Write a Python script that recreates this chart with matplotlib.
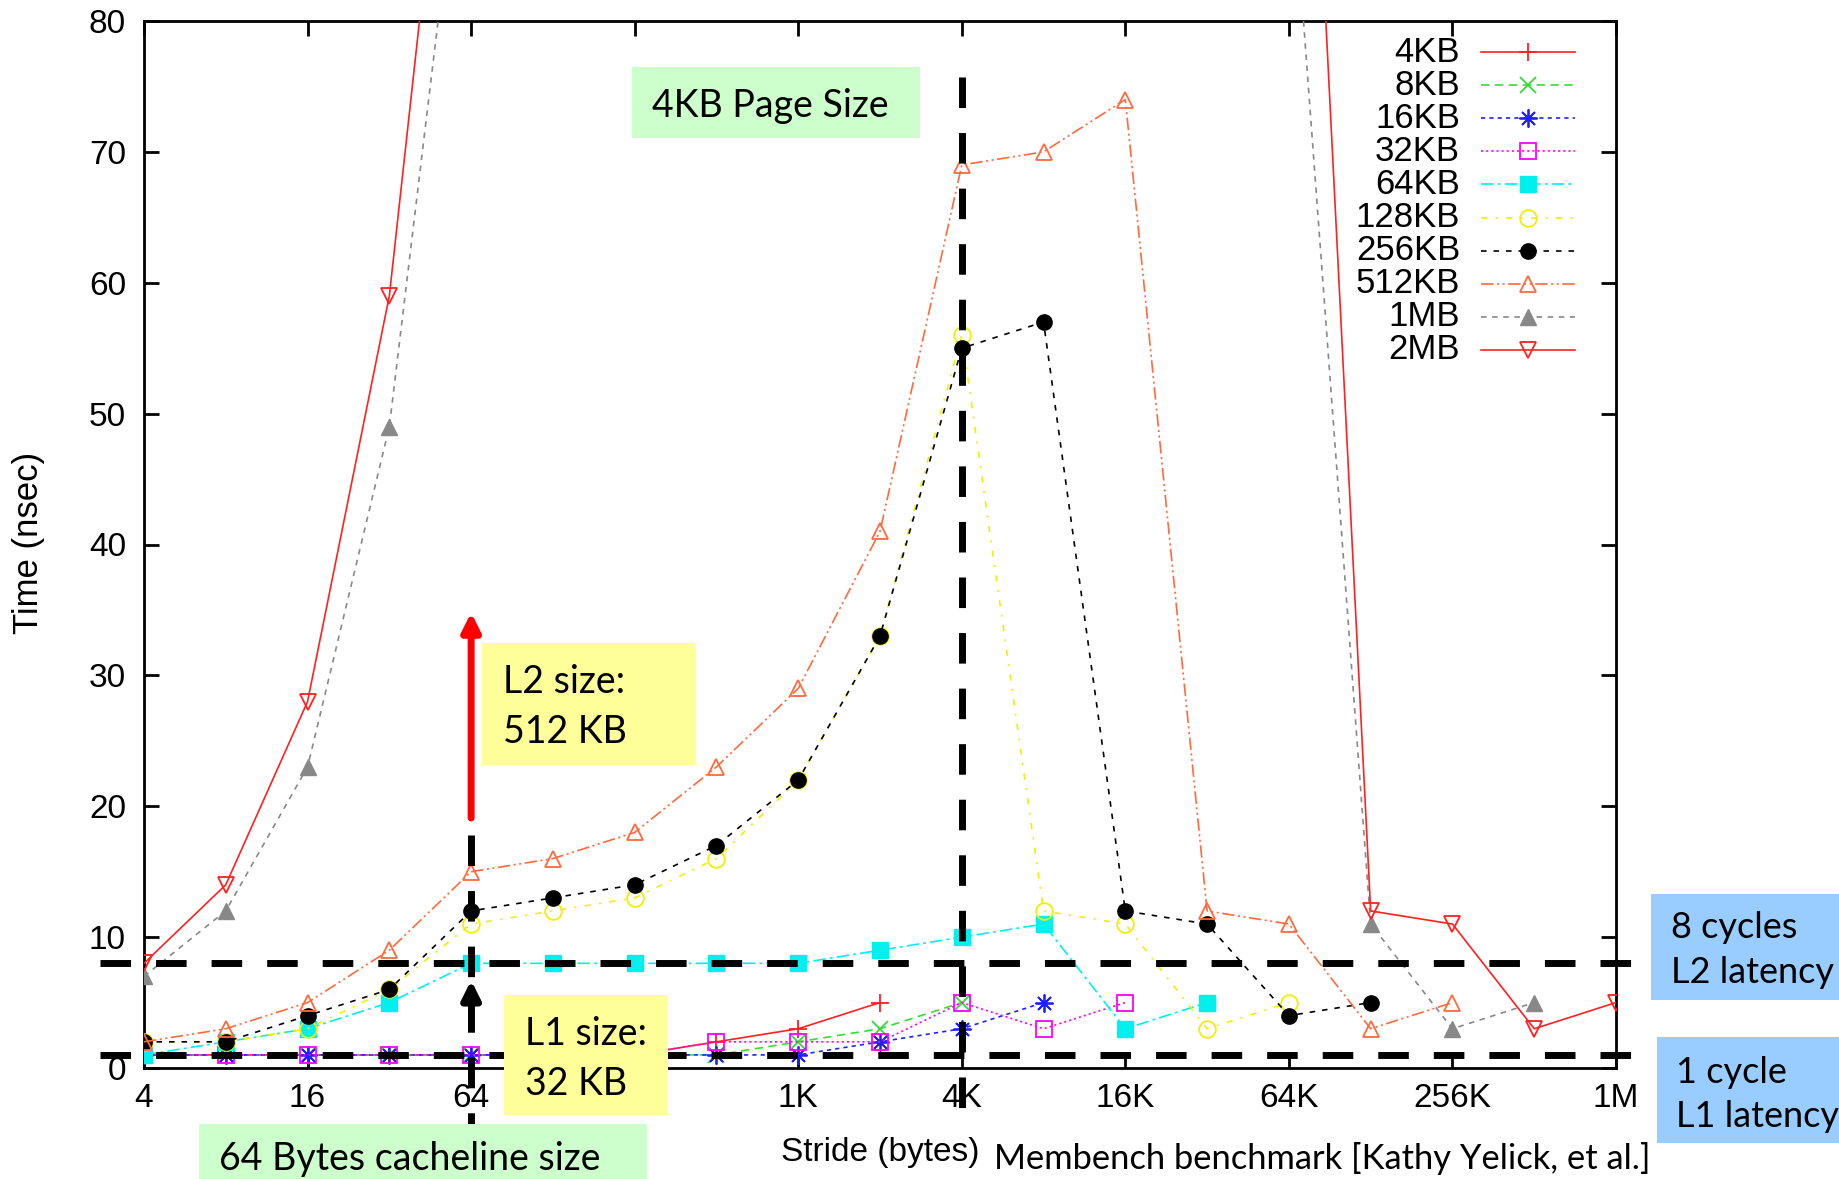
import matplotlib
matplotlib.use('Agg')
import matplotlib.pyplot as plt
from matplotlib.patches import Rectangle

plt.rcParams['lines.scale_dashes'] = False

W, H = 1839, 1179
DPI = 100

# ---------------- data ----------------
strides = [4, 8, 16, 32, 64, 128, 256, 512, 1024, 2048, 4096, 8192,
           16384, 32768, 65536, 131072, 262144, 524288, 1048576]
xtick_vals = [4, 16, 64, 256, 1024, 4096, 16384, 65536, 262144, 1048576]
# the "256" label is hidden behind the "L1 size" box in the original
xtick_labels = ['4', '16', '64', '', '1K', '4K', '16K', '64K', '256K', '1M']
ytick_vals = [0, 10, 20, 30, 40, 50, 60, 70, 80]

series_labels = ['4KB', '8KB', '16KB', '32KB', '64KB', '128KB', '256KB',
                 '512KB', '1MB', '2MB']
t_4KB = [1, 1, 1, 1, 1, 1, 1, 2, 3, 5]
t_8KB = [1, 1, 1, 1, 1, 1, 1, 1, 2, 3, 5]
t_16KB = [1, 1, 1, 1, 1, 1, 1, 1, 1, 2, 3, 5]
t_32KB = [1, 1, 1, 1, 1, 1, 1, 2, 2, 2, 5, 3, 5]
t_64KB = [1, 2, 3, 5, 8, 8, 8, 8, 8, 9, 10, 11, 3, 5]
t_128KB = [2, 2, 3, 6, 11, 12, 13, 16, 22, 33, 56, 12, 11, 3, 5]
t_256KB = [2, 2, 4, 6, 12, 13, 14, 17, 22, 33, 55, 57, 12, 11, 4, 5]
t_512KB = [2, 3, 5, 9, 15, 16, 18, 23, 29, 41, 69, 70, 74, 12, 11, 3, 5]
t_1MB = [7, 12, 23, 49, 101, 102, 104, 106, 108, 110, 108, 105, 102, 99, 95,
         11, 3, 5]
t_2MB = [8, 14, 28, 59, 116, 120, 124, 128, 130, 132, 134, 135, 136, 136, 136,
         12, 11, 3, 5]
series_values = [t_4KB, t_8KB, t_16KB, t_32KB, t_64KB, t_128KB, t_256KB,
                 t_512KB, t_1MB, t_2MB]

# ---------------- styles ----------------
styles = [
    dict(color='#ff2020', ls='-', marker='+', ms=13, mew=1.3, mfc='none'),
    dict(color='#33dd33', ls=(0, (6, 4)), marker='x', ms=11, mew=1.3, mfc='none'),
    dict(color='#2020ff', ls=(0, (3, 3)), marker=(8, 2, 0), ms=13, mew=1.3, mfc='none'),
    dict(color='#ff00ff', ls=(0, (1.5, 2.2)), marker='s', ms=11, mew=1.3, mfc='none'),
    dict(color='#00f0f0', ls=(0, (9, 3, 2, 3)), marker='s', ms=11, mew=1.0),
    dict(color='#f0f000', ls=(0, (4.5, 6, 1.5, 6)), marker='o', ms=12, mew=1.3, mfc='none'),
    dict(color='#000000', ls=(0, (4, 5)), marker='o', ms=11, mew=1.0),
    dict(color='#ff6a3d', ls=(0, (9, 2.5, 1.5, 2.5, 1.5, 2.5)), marker='^', ms=11, mew=1.3, mfc='none'),
    dict(color='#888888', ls=(0, (4, 4)), marker='^', ms=11, mew=1.0),
    dict(color='#ff2020', ls='-', marker='v', ms=11, mew=1.3, mfc='none'),
]

fig = plt.figure(figsize=(W / DPI, H / DPI), dpi=DPI)
fig.patch.set_facecolor('white')

def fx(px):
    return px / W

def fy(py):
    return 1 - py / H

ax_left, ax_right, ax_top, ax_bot = 144, 1616, 21, 1068
ax = fig.add_axes([fx(ax_left), fy(ax_bot), fx(ax_right - ax_left), (ax_bot - ax_top) / H])
ax.set_xscale('log', base=2)
ax.set_xlim(4, 1048576)
ax.set_ylim(0, 80)

sans = ['Liberation Sans', 'DejaVu Sans']

for vals, st in zip(series_values, styles):
    ax.plot(strides[:len(vals)], vals, lw=1.2, zorder=3, **st)

ax.set_xticks(xtick_vals)
ax.set_xticklabels(xtick_labels)
ax.set_yticks(ytick_vals)
ax.set_yticklabels([str(v) for v in ytick_vals])
ax.minorticks_off()
ax.tick_params(axis='both', which='major', direction='in', length=11, width=2,
               top=True, right=True, labelsize=24)
ax.tick_params(axis='x', pad=11)
ax.tick_params(axis='y', pad=13)
for lab in ax.get_xticklabels() + ax.get_yticklabels():
    lab.set_fontfamily(sans)
for sp in ax.spines.values():
    sp.set_linewidth(2)

# ---------------- legend (manual, right aligned labels) ----------------
def axfx(px):
    return (px - ax_left) / (ax_right - ax_left)

def axfy(py):
    return (ax_bot - py) / (ax_bot - ax_top)

for i, (lab, st) in enumerate(zip(series_labels, styles)):
    yrow = 52 + i * 33.1
    ay = axfy(yrow)
    ax.text(axfx(1460), ay, lab, transform=ax.transAxes, ha='right', va='center',
            fontsize=25, fontfamily=sans)
    ax.plot([axfx(1481), axfx(1528), axfx(1575)], [ay, ay, ay], transform=ax.transAxes,
            clip_on=False, markevery=[1], lw=1.2, zorder=3, **st)

# ---------------- reference lines ----------------
thick = dict(color='black', lw=5, ls=(0, (22, 18)))
bt = ax.get_yaxis_transform()  # x in axes, y in data
for yv in (8, 1):
    ax.plot([-0.030, 1.0197], [yv, yv], transform=bt, clip_on=False, zorder=6, **thick)

ax.plot([4096, 4096], [75.7, -4.0], clip_on=False, zorder=6, **thick)
ax.plot([64, 64], [17.8, -4.6], clip_on=False, zorder=6, **thick)

ax.annotate('', xy=(64, 34.8), xytext=(64, 19.1),
            arrowprops=dict(arrowstyle='-|>', color='red', lw=5,
                            mutation_scale=27, shrinkA=0, shrinkB=0),
            zorder=7)
ax.annotate('', xy=(64, 6.7), xytext=(64, 5.0),
            arrowprops=dict(arrowstyle='-|>', color='black', lw=5,
                            mutation_scale=27, shrinkA=0, shrinkB=0),
            zorder=7)

# ---------------- annotation boxes ----------------
box_font = ['Lato', 'DejaVu Sans']

def box(x0, y0, x1, y1, color):
    fig.add_artist(Rectangle((fx(x0), fy(y1)), fx(x1 - x0), (y1 - y0) / H,
                             transform=fig.transFigure, facecolor=color,
                             edgecolor='none', zorder=10))

def btext(x, y, s, size=27):
    fig.text(fx(x), fy(y), s, ha='left', va='baseline', fontsize=size,
             fontfamily=box_font, zorder=11)

box(632, 67, 920, 138, '#ccffcc')
btext(652, 117, '4KB Page Size')

box(482, 643, 696, 765, '#ffff99')
btext(503, 693, 'L2 size:')
btext(503, 743, '512 KB')

box(504, 995, 668, 1115, '#ffff99')
btext(525, 1045, 'L1 size:')
btext(525, 1095, '32 KB')

box(199, 1124, 647, 1185, '#ccffcc')
btext(219, 1170, '64 Bytes cacheline size')

box(1651, 894, 1845, 1000, '#99ccff')
btext(1671, 938, '8 cycles', size=26)
btext(1671, 983, 'L2 latency', size=26)

box(1657, 1037, 1845, 1143, '#99ccff')
btext(1676, 1083, '1 cycle', size=26)
btext(1676, 1127, 'L1 latency', size=26)

fig.text(fx(994), fy(1169), 'Membench benchmark [Kathy Yelick, et al.]', ha='left',
         va='baseline', fontsize=24.8, fontfamily=box_font, zorder=11)

fig.text(fx(880), fy(1161), 'Stride (bytes)', ha='center', va='baseline',
         fontsize=24, fontfamily=sans)
fig.text(fx(29), fy(543), 'Time (nsec)', ha='center', va='center', rotation=90,
         fontsize=25, fontfamily=sans)

fig.savefig('out.png', dpi=DPI, facecolor='white')
